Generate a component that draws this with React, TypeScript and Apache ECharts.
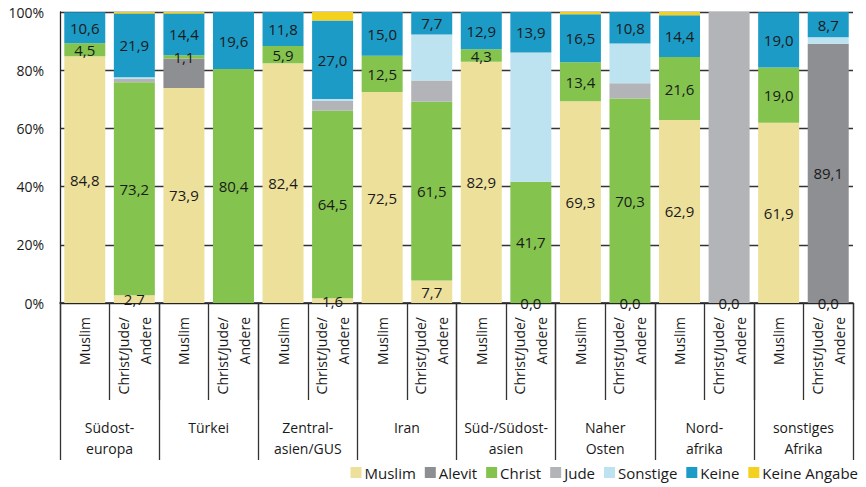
import React, { useEffect, useRef } from "react";
import * as echarts from "echarts";

const groups = [
  "Südost-\neuropa",
  "Türkei",
  "Zentral-\nasien/GUS",
  "Iran",
  "Süd-/Südost-\nasien",
  "Naher\nOsten",
  "Nord-\nafrika",
  "sonstiges\nAfrika",
];
const subLabels = ["Muslim", "Christ/Jude/\nAndere"];
const categories = groups.flatMap((g, gi) => subLabels.map((s) => `${gi}|${s}`));

const seriesNames = ["Muslim", "Alevit", "Christ", "Jude", "Sonstige", "Keine", "Keine Angabe"];
const colors = ["#ede09b", "#8e8f93", "#84c44e", "#b3b4b8", "#bde3f1", "#1d9bc7", "#f5d11f"];

// values per bar (16 bars: Muslim / Christ-Jude-Andere for each region)
const muslim = [84.8, 2.7, 73.9, null, 82.4, 1.6, 72.5, 7.7, 82.9, 0.0, 69.3, 0.0, 62.9, 0.0, 61.9, 0.0];
const alevit = [0, 0, 10.1, 0, 0, 0, 0, 0, 0, 0, 0, 0, 0, 0, 0, 89.1];
const christ = [4.5, 73.2, 1.1, 80.4, 5.9, 64.5, 12.5, 61.5, 4.3, 41.7, 13.4, 70.3, 21.6, 0, 19.0, 0];
const jude = [0, 1.1, 0, 0, 0, 3.3, 0, 7.3, 0, 0, 0, 5.2, 0, 100, 0, 0];
const sonstige = [0, 0.6, 0, 0, 0, 0.7, 0, 15.8, 0, 44.4, 0, 13.7, 0, 0, 0, 2.2];
const keine = [10.6, 21.9, 14.4, 19.6, 11.8, 27.0, 15.0, 7.7, 12.9, 13.9, 16.5, 10.8, 14.4, 0, 19.0, 8.7];
const keineAngabe = [0, 0.5, 0.5, 0, 0, 2.9, 0, 0, 0, 0, 0.8, 0, 1.1, 0, 0, 0];

const seriesValues = [muslim, alevit, christ, jude, sonstige, keine, keineAngabe];
const labelledSeries = ["Muslim", "Alevit", "Christ", "Keine"];
const hiddenLabels: Record<string, number[]> = { Alevit: [2] };

const FONT = "Open Sans";

export default function App() {
  const ref = useRef<HTMLDivElement>(null);
  useEffect(() => {
    if (!ref.current) return;
    const chart = echarts.init(ref.current, undefined, { renderer: "svg" });
    const series = seriesNames.map((name, si) => ({
      name,
      type: "bar",
      stack: "total",
      barWidth: 41,
      xAxisIndex: 0,
      itemStyle: { color: colors[si] },
      data: seriesValues[si].map((v, i) => {
        const show =
          v !== null &&
          labelledSeries.includes(name) &&
          (name === "Muslim" || (v as number) > 0) &&
          !(hiddenLabels[name] || []).includes(i);
        return {
          value: v === null ? "-" : v,
          label: { show },
        };
      }),
      label: {
        show: false,
        position: "inside",
        color: "#1a1a1a",
        fontFamily: FONT,
        fontSize: 15,
        formatter: (p: any) => Number(p.value).toFixed(1).replace(".", ","),
      },
    }));
    chart.setOption({
      animation: false,
      grid: { left: 60, right: 13, top: 12, bottom: 184, containLabel: false },
      legend: {
        data: seriesNames,
        right: 3,
        bottom: 2,
        itemWidth: 11,
        itemHeight: 11,
        itemGap: 9,
        icon: "rect",
        textStyle: { fontFamily: FONT, fontSize: 15, color: "#1a1a1a", padding: [0, 0, 0, -2] },
      },
      xAxis: [
        {
          type: "category",
          data: categories,
          position: "bottom",
          axisLine: { show: true, lineStyle: { color: "#222", width: 1.5 } },
          axisTick: { show: true, interval: 0, length: 97, lineStyle: { color: "#333", width: 1.3 } },
          axisLabel: {
            interval: 0,
            rotate: 90,
            margin: 14,
            fontFamily: FONT,
            fontSize: 14,
            lineHeight: 22,
            color: "#1a1a1a",
            formatter: (v: string) => v.split("|")[1],
          },
        },
        {
          type: "category",
          data: groups,
          position: "bottom",
          axisLine: { show: false },
          axisTick: { show: true, interval: 0, length: 157, lineStyle: { color: "#333", width: 1.3 } },
          axisLabel: {
            interval: 0,
            margin: 114,
            fontFamily: FONT,
            fontSize: 14,
            lineHeight: 21,
            color: "#1a1a1a",
          },
        },
      ],
      yAxis: {
        type: "value",
        min: 0,
        max: 100,
        interval: 20,
        axisLine: { show: true, lineStyle: { color: "#222", width: 1.3 } },
        axisTick: { show: false },
        splitLine: { show: true, lineStyle: { color: "#333", width: 1.3 } },
        axisLabel: {
          margin: 16,
          fontFamily: FONT,
          fontSize: 14,
          color: "#1a1a1a",
          formatter: (v: number) => `${v}%`,
        },
      },
      series,
    });
    return () => chart.dispose();
  }, []);
  return <div ref={ref} style={{ width: 866, height: 487, position: "absolute", left: 0, top: 0 }} />;
}
